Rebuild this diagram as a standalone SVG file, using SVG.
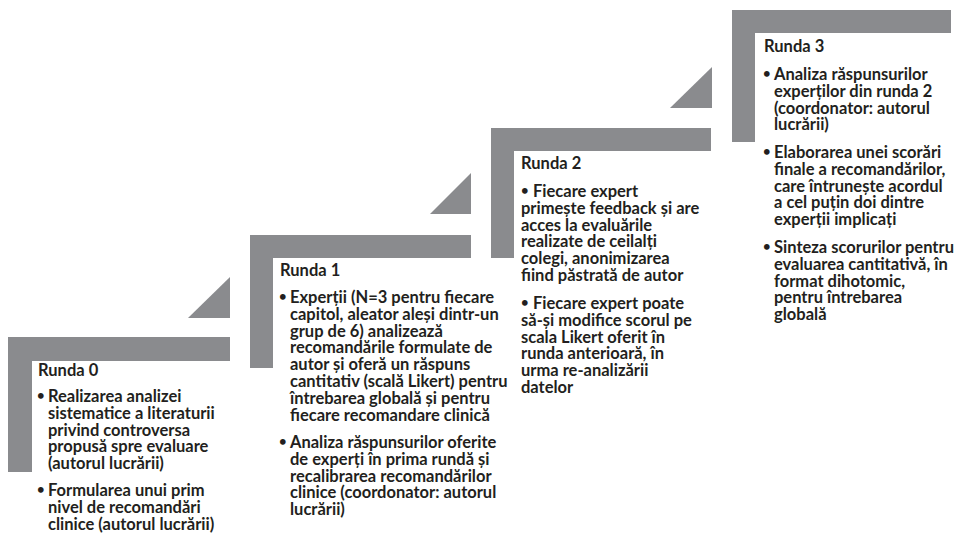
<svg xmlns="http://www.w3.org/2000/svg" width="955" height="538" viewBox="0 0 955 538">
<style>
.step{fill:#8a8b8e}
.tri{fill:#8a8b8e}
text{font-family:Lato,"Liberation Sans","DejaVu Sans",sans-serif;font-weight:bold;font-size:16.5px;fill:#231f20}
.b{font-size:13px}
</style>
<rect width="955" height="538" fill="#ffffff"/>
<g id="connectors">
<polygon class="tri" points="188,318 230,277 230,318"/>
<polygon class="tri" points="430,214 471,173 471,214"/>
<polygon class="tri" points="670,108 712,67 712,108"/>
</g>
<g id="runda0">
<path class="step" d="M8,337 H230 V361 H32 V472 H8 Z"/>
<text x="38" y="376">Runda 0</text>
<text class="b" x="37" y="400">•</text>
<text class="b" x="37" y="494">•</text>
<text><tspan x="48" y="402">Realizarea analizei</tspan><tspan x="48" y="418.8">sistematice a literaturii</tspan><tspan x="48" y="435.6">privind controversa</tspan><tspan x="48" y="452.4">propusă spre evaluare</tspan><tspan x="48" y="469.2">(autorul lucrării)</tspan><tspan x="48" y="496">Formularea unui prim</tspan><tspan x="48" y="512.8">nivel de recomandări</tspan><tspan x="48" y="529.6">clinice (autorul lucrării)</tspan></text>
</g>
<g id="runda1">
<path class="step" d="M250,235 H471 V258 H273 V368 H250 Z"/>
<text x="280" y="276">Runda 1</text>
<text class="b" x="279" y="301">•</text>
<text class="b" x="279" y="446">•</text>
<text><tspan x="290" y="303">Experții (N=3 pentru fiecare</tspan><tspan x="290" y="319.8">capitol, aleator aleși dintr-un</tspan><tspan x="290" y="336.6">grup de 6) analizează</tspan><tspan x="290" y="353.4">recomandările formulate de</tspan><tspan x="290" y="370.2">autor și oferă un răspuns</tspan><tspan x="290" y="387">cantitativ (scală Likert) pentru</tspan><tspan x="290" y="403.8">întrebarea globală și pentru</tspan><tspan x="290" y="420.6">fiecare recomandare clinică</tspan><tspan x="290" y="448">Analiza răspunsurilor oferite</tspan><tspan x="290" y="464.8">de experți în prima rundă și</tspan><tspan x="290" y="481.6">recalibrarea recomandărilor</tspan><tspan x="290" y="498.4">clinice (coordonator: autorul</tspan><tspan x="290" y="515.2">lucrării)</tspan></text>
</g>
<g id="runda2">
<path class="step" d="M491,128 H711 V151 H514 V258 H491 Z"/>
<text x="521" y="169">Runda 2</text>
<text class="b" x="521" y="195">•</text>
<text class="b" x="521" y="307">•</text>
<text><tspan x="533" y="197">Fiecare expert</tspan><tspan x="521" y="213.8">primește feedback și are</tspan><tspan x="521" y="230.6">acces la evaluările</tspan><tspan x="521" y="247.4">realizate de ceilalți</tspan><tspan x="521" y="264.2">colegi, anonimizarea</tspan><tspan x="521" y="281">fiind păstrată de autor</tspan><tspan x="533" y="309">Fiecare expert poate</tspan><tspan x="521" y="325.8">să-și modifice scorul pe</tspan><tspan x="521" y="342.6">scala Likert oferit în</tspan><tspan x="521" y="359.4">runda anterioară, în</tspan><tspan x="521" y="376.2">urma re-analizării</tspan><tspan x="521" y="393">datelor</tspan></text>
</g>
<g id="runda3">
<path class="step" d="M732,10 H951 V33 H755 V142 H732 Z"/>
<text x="764" y="52">Runda 3</text>
<text class="b" x="763" y="78">•</text>
<text class="b" x="763" y="156">•</text>
<text class="b" x="763" y="251">•</text>
<text><tspan x="774" y="80">Analiza răspunsurilor</tspan><tspan x="774" y="96.8">experților din runda 2</tspan><tspan x="774" y="113.6">(coordonator: autorul</tspan><tspan x="774" y="130.4">lucrării)</tspan><tspan x="774" y="158">Elaborarea unei scorări</tspan><tspan x="774" y="174.8">finale a recomandărilor,</tspan><tspan x="774" y="191.6">care întrunește acordul</tspan><tspan x="774" y="208.4">a cel puțin doi dintre</tspan><tspan x="774" y="225.2">experții implicați</tspan><tspan x="774" y="253">Sinteza scorurilor pentru</tspan><tspan x="774" y="269.8">evaluarea cantitativă, în</tspan><tspan x="774" y="286.6">format dihotomic,</tspan><tspan x="774" y="303.4">pentru întrebarea</tspan><tspan x="774" y="320.2">globală</tspan></text>
</g>
</svg>
